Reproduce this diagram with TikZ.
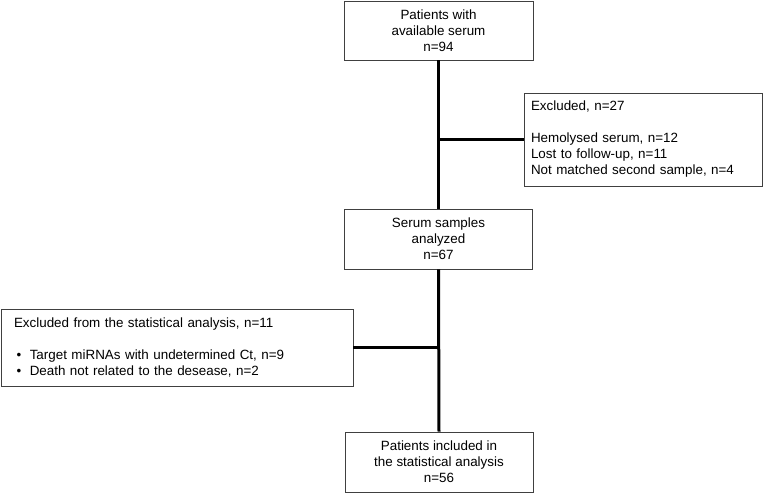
\documentclass[tikz,border=0pt]{standalone}
\usepackage{fontspec}
\setmainfont{Liberation Sans}
\begin{document}
\begin{tikzpicture}[x=1pt,y=-1pt,
  every node/.style={font=\fontsize{13.4}{16}\selectfont},
  cbox/.style={draw=black!75, line width=0.9pt, fill=white, align=center, inner sep=0pt},
  lbox/.style={draw=black!75, line width=0.9pt, fill=white, align=left, inner ysep=0pt},
  conn/.style={line width=3pt, black}]
\useasboundingbox (0,0) rectangle (764,493);
\node[cbox, minimum width=189pt, minimum height=59pt] (b1) at (438.5,30.5)
  {Patients with\\available serum\\n=94};
\node[lbox, inner xsep=7pt, text width=224pt, minimum height=93pt] (ex1) at (643,139.5)
  {Excluded, n=27\\[16pt]Hemolysed serum, n=12\\Lost to follow-up, n=11\\Not matched second sample, n=4};
\node[cbox, minimum width=188pt, minimum height=60pt] (b2) at (438.5,239)
  {Serum samples\\analyzed\\n=67};
\node[lbox, inner xsep=13pt, text width=326pt, minimum height=77pt] (ex2) at (177,347.5)
  {Excluded from the statistical analysis, n=11\\[16pt]\hspace*{2.6pt}\textbullet\hspace{8.5pt}Target miRNAs with undetermined Ct, n=9\\\hspace*{2.6pt}\textbullet\hspace{8.5pt}Death not related to the desease, n=2};
\node[cbox, minimum width=188pt, minimum height=60pt] (b4) at (439,462)
  {Patients included in\\the statistical analysis\\n=56};
\draw[conn] (b1.south) -- (b2.north);
\draw[conn] (b2.south) -- (b4.north);
\draw[conn] (ex1.west) -- (ex1.west -| b1.south);
\draw[conn] (ex2.east) -- (ex2.east -| b2.south);
\end{tikzpicture}
\end{document}
